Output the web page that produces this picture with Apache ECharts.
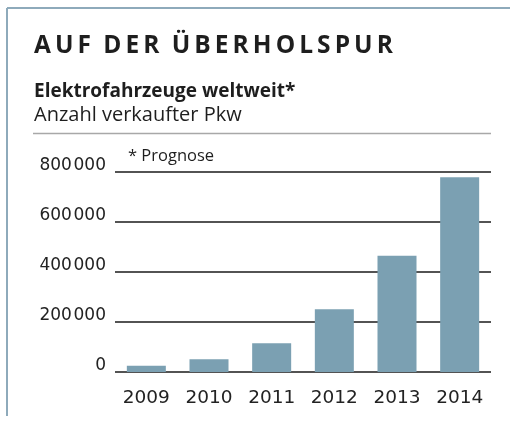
<!DOCTYPE html>
<html><head><meta charset="utf-8">
<script src="https://cdn.jsdelivr.net/npm/echarts@6/dist/echarts.min.js"></script>
<style>html,body{margin:0;padding:0;background:#fff}#c{width:510px;height:421px}</style>
</head><body><div id="c"></div>
<script>
const categories = ['2009', '2010', '2011', '2012', '2013', '2014'];
const salesValues = [25000, 51000, 115000, 251000, 465000, 779000];
const yTickValues = [0, 200000, 400000, 600000, 800000];
const titleText = 'AUF DER ÜBERHOLSPUR';
const subtitleText = 'Elektrofahrzeuge weltweit*';
const unitText = 'Anzahl verkaufter Pkw';
const noteText = '* Prognose';

function spaced(s) {
  return s.split(' ').map(w => w.split('').join('\u2009')).join('\u2002');
}
function fmt(v) {
  if (v === 0) return '0';
  const s = String(v);
  return s.slice(0, s.length - 3) + '\u200a' + s.slice(-3);
}

const chart = echarts.init(document.getElementById('c'));
const FONT = '"Open Sans", "Noto Sans", sans-serif';
const NUMFONT = '"DejaVu Sans", sans-serif';
chart.setOption({
  animation: false,
  title: [
    { text: spaced(titleText), left: 34, top: 34, padding: 0, textStyle: { fontFamily: FONT, fontWeight: 'bold', fontSize: 24.5, color: '#1e1e1e' } },
    { text: subtitleText, left: 34, top: 82, padding: 0, textStyle: { fontFamily: FONT, fontWeight: 'bold', fontSize: 19, color: '#1e1e1e' } },
    { text: unitText, left: 34, top: 105, padding: 0, textStyle: { fontFamily: FONT, fontWeight: 'normal', fontSize: 20, color: '#1e1e1e' } },
    { text: noteText, left: 128, top: 148, padding: 0, textStyle: { fontFamily: FONT, fontWeight: 'normal', fontSize: 16.5, color: '#1e1e1e' } }
  ],
  graphic: [
    { type: 'line', shape: { x1: 7, y1: 8, x2: 510, y2: 8 }, style: { stroke: '#8eaabb', lineWidth: 2 } },
    { type: 'line', shape: { x1: 7, y1: 8, x2: 7, y2: 416 }, style: { stroke: '#8eaabb', lineWidth: 2 } },
    { type: 'line', shape: { x1: 33, y1: 133.5, x2: 491, y2: 133.5 }, style: { stroke: '#a8a8a8', lineWidth: 1.5 } }
  ],
  grid: { left: 115, right: 19, top: 172, bottom: 49, containLabel: false },
  xAxis: {
    type: 'category', data: categories,
    axisLine: { show: false }, axisTick: { show: false },
    axisLabel: { margin: 17, fontFamily: NUMFONT, fontSize: 18.5, color: '#222' }
  },
  yAxis: {
    type: 'value', min: 0, max: 800000, interval: 200000,
    axisLine: { show: false }, axisTick: { show: false },
    splitLine: { lineStyle: { color: '#1a1a1a', width: 1.6 } },
    axisLabel: {
      margin: 9, fontFamily: NUMFONT, fontSize: 17, lineHeight: 12, color: '#222', verticalAlign: 'bottom',
      formatter: v => yTickValues.includes(v) ? fmt(v) : ''
    }
  },
  series: [{
    type: 'bar', data: salesValues, barWidth: 39,
    itemStyle: { color: '#7ba0b2' }, z: 3
  }]
});
</script></body></html>
